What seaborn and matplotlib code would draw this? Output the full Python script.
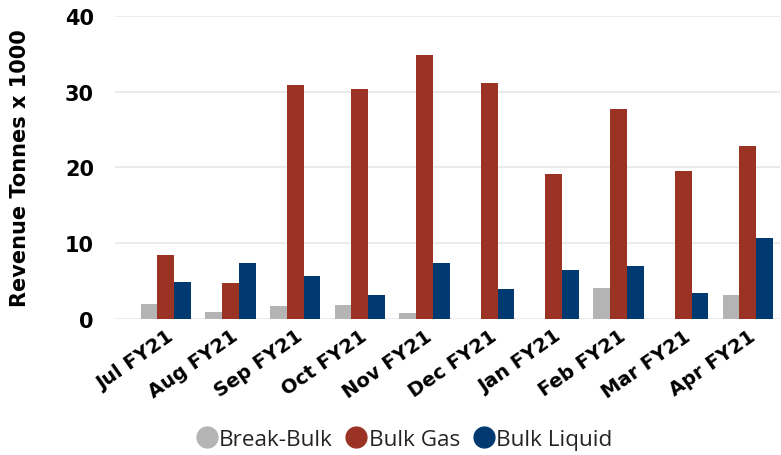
import matplotlib
matplotlib.use("Agg")
import matplotlib.pyplot as plt
from matplotlib.lines import Line2D
import pandas as pd
import seaborn as sns

months = ["Jul FY21", "Aug FY21", "Sep FY21", "Oct FY21", "Nov FY21",
          "Dec FY21", "Jan FY21", "Feb FY21", "Mar FY21", "Apr FY21"]
break_bulk = [2.0, 1.0, 1.7, 1.9, 0.75, 0.0, 0.0, 4.05, 0.0, 3.2]
bulk_gas = [8.4, 4.7, 30.9, 30.35, 34.9, 31.2, 19.1, 27.75, 19.5, 22.9]
bulk_liquid = [4.85, 7.35, 5.65, 3.2, 7.4, 4.0, 6.5, 6.95, 3.5, 10.65]

series = ["Break-Bulk", "Bulk Gas", "Bulk Liquid"]
colors = ["#b4b4b4", "#9a3324", "#003a70"]

df = pd.DataFrame({
    "month": months * 3,
    "value": break_bulk + bulk_gas + bulk_liquid,
    "type": [s for s in series for _ in months],
})

sns.set_style("white")
plt.rcParams["font.family"] = ["DejaVu Sans"]
plt.rcParams["text.color"] = "black"
plt.rcParams["xtick.color"] = "black"
plt.rcParams["ytick.color"] = "black"

fig = plt.figure(figsize=(7.81, 4.56), dpi=100)
ax = fig.add_axes([0.147, 0.298, 0.852, 0.665])

sns.barplot(data=df, x="month", y="value", hue="type", order=months,
            hue_order=series, palette=colors, saturation=1, width=0.78,
            gap=0, linewidth=0, legend=False, ax=ax)

ax.set_ylim(0, 40)
ax.set_xlim(-0.79, 9.5)
ax.set_yticks([0, 10, 20, 30, 40])
ax.grid(axis="y", color="#e8e8e8", linewidth=1.2)
ax.set_axisbelow(True)
for sp in ax.spines.values():
    sp.set_visible(False)
ax.tick_params(axis="both", length=0)
ax.tick_params(axis="y", pad=15)

for lab in ax.get_yticklabels():
    lab.set_fontsize(15)
    lab.set_fontweight("heavy")
    lab.set_color("black")

ax.set_xticks(range(len(months)))
ax.set_xticklabels(months, rotation=35, ha="right", rotation_mode="anchor",
                   fontsize=14, fontweight="heavy", color="black")
ax.tick_params(axis="x", pad=5)

ax.set_xlabel("")
ax.set_ylabel("Revenue Tonnes x 1000", fontsize=15, fontweight="heavy",
              color="black")
ax.yaxis.set_label_coords(-0.128, 0.5)

handles = [Line2D([], [], marker="o", linestyle="", markersize=15,
                  markerfacecolor=c, markeredgecolor=c) for c in colors]
fig.legend(handles, series, loc="center", bbox_to_anchor=(0.517, 0.035),
           ncol=3, frameon=False, handletextpad=0.05, columnspacing=0.55,
           handlelength=1.0, labelcolor="#252423",
           prop={"family": "Open Sans", "size": 16.2})

fig.savefig("out.png", dpi=100)
